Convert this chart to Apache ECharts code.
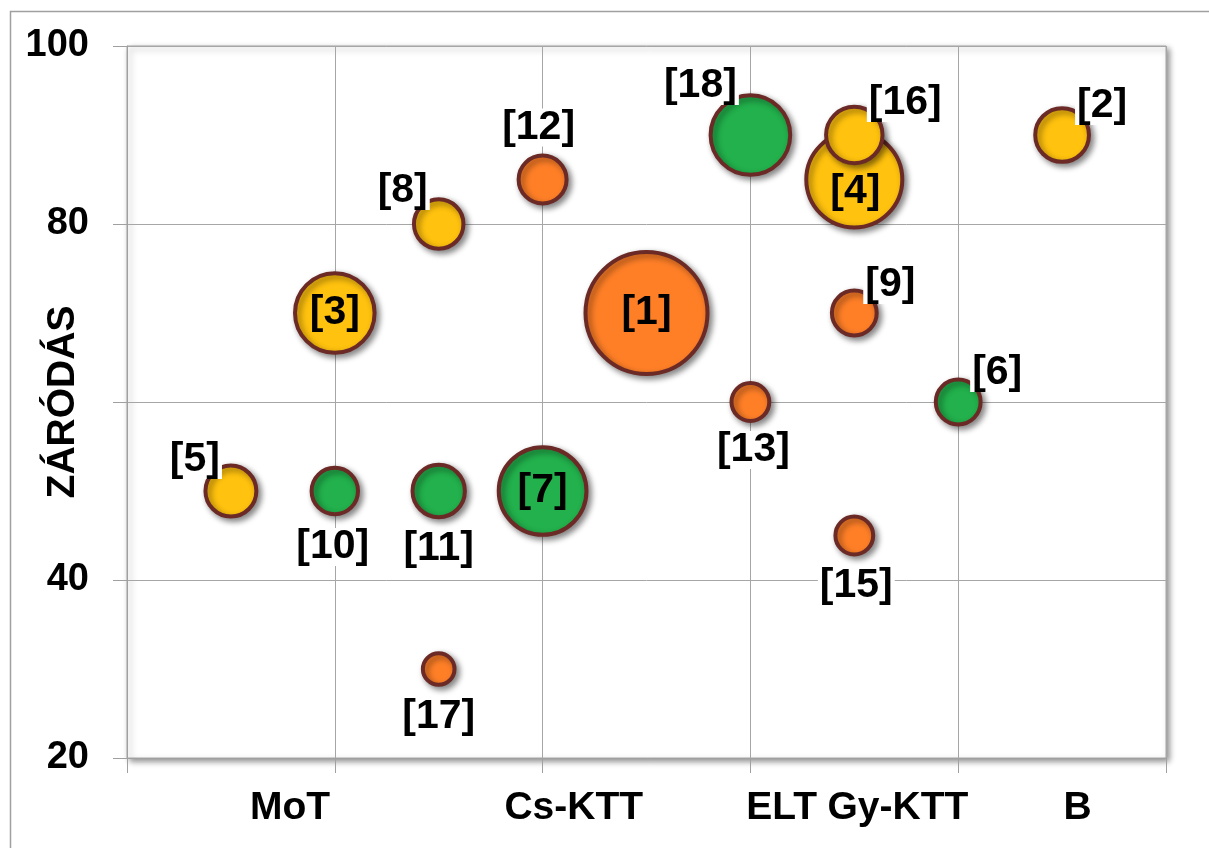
<!DOCTYPE html>
<html>
<head>
<meta charset="utf-8">
<script src="https://cdn.jsdelivr.net/npm/echarts@6/dist/echarts.min.js"></script>
<style>
  html, body { margin: 0; padding: 0; background: #fff; }
  #chart { width: 1209px; height: 848px; }
</style>
</head>
<body>
<div id="chart"></div>
<script>
// bubble data (reference number, x, y, bubble value, group)
const refIds   = [1, 2, 3, 4, 5, 6, 7, 8, 9, 10, 11, 12, 13, 15, 17, 18, 16];
const xValues  = [5, 9, 2, 7, 1, 8, 4, 3, 7, 2, 3, 4, 6, 7, 3, 6, 7];
const yValues  = [70, 90, 70, 85, 50, 60, 50, 80, 70, 50, 50, 85, 60, 45, 30, 90, 90];
const bubbleValues = [100, 21, 44, 63, 19, 15, 53, 18, 15, 16, 20, 17, 11, 11, 8, 44, 23];
const groups   = ["o", "y", "y", "y", "y", "g", "g", "y", "o", "g", "g", "o", "o", "o", "o", "g", "y"];

// axis texts
const xLabelNames = ["MoT", "Cs-KTT", "ELT", "Gy-KTT", "B"];
const xLabelAt = [1.57, 4.3, 6.3, 7.42, 9.15];
const yTickLabels = [20, 40, 80, 100];

// label placement (pixel offset from bubble centre), same order as refIds
const labelOffsets = [
  [0, 0], [40, -29], [0, 0], [1, 12], [-36, -31], [39, -29], [0, 0], [-36, -33],
  [36, -28], [-2, 56], [0, 58], [-4, -52], [3, 48], [2, 50], [0, 48], [-50, -49], [51, -32]
];

const groupColors = { y: "#FFC20E", o: "#FF7F27", g: "#22B14C" };
const font = "'Liberation Sans', Arial, sans-serif";

const data = refIds.map((id, i) => {
  const off = labelOffsets[i];
  const inside = off[0] === 0 && off[1] === 0 || id === 4;
  return {
    value: [xValues[i], yValues[i], bubbleValues[i]],
    name: "[" + id + "]",
    itemStyle: { color: groupColors[groups[i]] },
    label: {
      offset: off,
      backgroundColor: inside ? "transparent" : "#fff"
    }
  };
});

let myChart = echarts.init(document.getElementById("chart"));
myChart.setOption({
  animation: false,
  graphic: [{
    type: "rect",
    left: 8, top: 9,
    shape: { width: 1300, height: 1000 },
    style: { fill: "none", stroke: "#a0a0a0", lineWidth: 1.5 },
    silent: true
  }],
  grid: {
    left: 127, top: 46, right: 43, bottom: 90,
    containLabel: false,
    outerBoundsMode: "none",
    show: true,
    backgroundColor: "#fff",
    borderColor: "#a6a6a6",
    borderWidth: 1,
    shadowColor: "rgba(0,0,0,0.45)",
    shadowBlur: 6,
    shadowOffsetX: 3,
    shadowOffsetY: 3
  },
  xAxis: {
    type: "value",
    min: 0, max: 10, interval: 2,
    axisLine: { show: true, lineStyle: { color: "#a0a0a0" } },
    axisTick: { show: true, length: 15, customValues: [0, 2, 4, 6, 8, 10], lineStyle: { color: "#a0a0a0" } },
    splitLine: { show: true, lineStyle: { color: "#a6a6a6", width: 1 } },
    axisLabel: {
      customValues: xLabelAt,
      formatter: (v) => {
        const k = xLabelAt.findIndex((p) => Math.abs(p - v) < 1e-6);
        return k >= 0 ? xLabelNames[k] : "";
      },
      margin: 31,
      color: "#000",
      fontSize: 39,
      fontWeight: "bold",
      fontFamily: font
    }
  },
  yAxis: {
    type: "value",
    min: 20, max: 100, interval: 20,
    name: "ZÁRÓDÁS",
    nameLocation: "middle",
    nameGap: 44,
    nameMoveOverlap: false,
    nameTextStyle: { color: "#000", fontSize: 39, fontWeight: "bold", fontFamily: font },
    axisLine: { show: true, lineStyle: { color: "#a0a0a0" } },
    axisTick: { show: true, length: 14, lineStyle: { color: "#a0a0a0" } },
    splitLine: { show: true, lineStyle: { color: "#a6a6a6", width: 1 } },
    axisLabel: {
      customValues: yTickLabels,
      margin: 38,
      color: "#000",
      fontSize: 38,
      fontWeight: "bold",
      fontFamily: font
    }
  },
  series: [{
    type: "scatter",
    data: data,
    symbolSize: (val) => Math.sqrt(val[2]) * 12.6 - 4,
    itemStyle: {
      borderColor: "#6b2a26",
      borderWidth: 4,
      opacity: 1,
      shadowColor: "rgba(0,0,0,0.45)",
      shadowBlur: 6,
      shadowOffsetX: 3,
      shadowOffsetY: 3
    },
    label: {
      show: true,
      position: "inside",
      formatter: (p) => p.name,
      color: "#000",
      fontSize: 41,
      fontWeight: "bold",
      fontFamily: font,
      padding: [0, 2, -2, 2],
      lineHeight: 40
    },
    emphasis: { disabled: true }
  }]
});
</script>
</body>
</html>
